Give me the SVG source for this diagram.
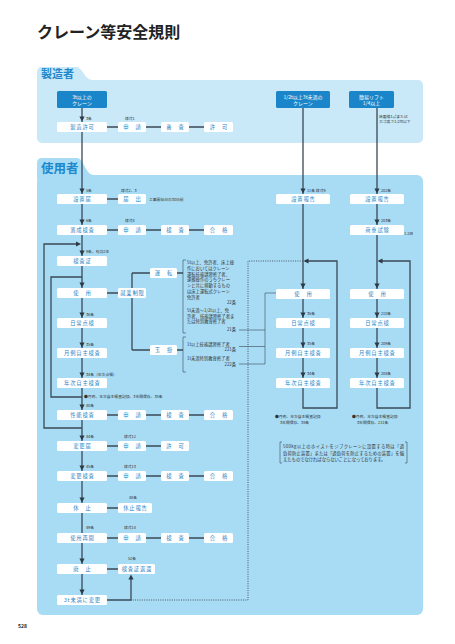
<svg xmlns="http://www.w3.org/2000/svg" width="455" height="644" viewBox="0 0 455 644">
<style>
text{font-family:"Noto Sans CJK JP","Noto Sans CJK SC",sans-serif}
.ttl{font-size:16px;font-weight:bold;fill:#222}
.tab{font-weight:bold;fill:#1e88cc}
.p1{fill:#c9e8f8}
.p2{fill:#a8dcf5}
.w{fill:#fff}
.d{fill:#1a86c9}
.t{font-size:5.3px;fill:#1f86c8;text-anchor:middle;letter-spacing:0.8px}
.tw{font-size:5px;fill:#fff;text-anchor:middle}
.s{font-size:3.8px;fill:#333}
.m{font-size:4.3px;fill:#333}
.r{text-anchor:end}
.ln{stroke:#3b4856;stroke-width:1.3;fill:none}
.lc{stroke:#3b4856;stroke-width:1.5;fill:none}
.thin{stroke:#3b4856;stroke-width:0.6;fill:none}
.dot{stroke:#3b4856;stroke-width:0.9;stroke-dasharray:1 1.3;fill:none}
.ah{fill:#2e3a46}
</style>
<defs>
<path id="ad" d="M-2.6,-5H2.6L0,0Z"/>
<path id="ar" d="M-5,-2.6V2.6L0,0Z"/>
<path id="al" d="M5,-2.6V2.6L0,0Z"/>
<path id="au" d="M-2.6,5H2.6L0,0Z"/>
</defs>
<rect width="455" height="644" fill="#fff"/>
<text class="ttl" x="37" y="38">クレーン等安全規則</text>

<g id="panel-maker">
<rect class="p1" x="37" y="80" width="386" height="63" rx="5"/>
<path class="p1" d="M37,84V72Q37,67 42,67H76C83,67 84,80 93,80V84Z"/>
<text class="tab" x="41" y="77.5" font-size="11">製造者</text>
</g>
<g id="panel-user">
<rect class="p2" x="37" y="175" width="386" height="440" rx="6"/>
<path class="p2" d="M37,179V163Q37,158 42,158H77C84,158 85,175 94,175V179Z"/>
<text class="tab" x="41" y="173" font-size="12.5">使用者</text>
</g>

<g id="connectors">
<path class="ln" d="M82,108V595"/>
<path class="ln" d="M303,108V408H337V261H305"/>
<path class="ln" d="M377,108V408H410V261H379"/>
<path class="ln" d="M82,428H44V244H77"/>
<path class="ln" d="M82,397H51V277H82"/>
<path class="lc" d="M107,127H118M146,127H161M189,127H204"/>
<path class="lc" d="M107,199H118"/>
<path class="lc" d="M107,230H118M146,230H161M189,230H204"/>
<path class="lc" d="M107,293H118"/>
<path class="ln" d="M132,273V350M132,273H150M132,350H150M177,273H183M177,350H183"/>
<path class="lc" d="M107,415H118M146,415H161M189,415H204"/>
<path class="lc" d="M107,446H118M146,446H161"/>
<path class="lc" d="M107,476H118M146,476H161M189,476H204"/>
<path class="lc" d="M107,508H118"/>
<path class="lc" d="M107,538H118M146,538H161M189,538H204"/>
<path class="lc" d="M107,569H118"/>
<path class="ln" d="M107,600H131V577"/>
<path class="thin" d="M186,260H183V333H186M186,337H183V372H186"/>
<path class="thin" d="M239,330H265M239,346.5H265M239,364H265M265,364V293H276"/>
<path class="dot" d="M303,261H248V600H131"/>
<g class="ah">
<use href="#ad" x="82" y="121.5"/><use href="#ad" x="82" y="193.5"/><use href="#ad" x="82" y="224.5"/><use href="#ad" x="82" y="255.5"/><use href="#ad" x="82" y="287.5"/><use href="#ad" x="82" y="317.5"/><use href="#ad" x="82" y="347.5"/><use href="#ad" x="82" y="377.5"/><use href="#ad" x="82" y="409.5"/><use href="#ad" x="82" y="440.5"/><use href="#ad" x="82" y="470.5"/><use href="#ad" x="82" y="502.5"/><use href="#ad" x="82" y="563.5"/><use href="#ad" x="82" y="594.5"/>
<use href="#ad" x="303" y="193.5"/><use href="#ad" x="303" y="288.5"/><use href="#ad" x="303" y="317.5"/><use href="#ad" x="303" y="347.5"/><use href="#ad" x="303" y="377.5"/>
<use href="#ad" x="377" y="193.5"/><use href="#ad" x="377" y="224.5"/><use href="#ad" x="377" y="288.5"/><use href="#ad" x="377" y="317.5"/><use href="#ad" x="377" y="347.5"/><use href="#ad" x="377" y="377.5"/>
<use href="#ar" x="81" y="244"/><use href="#al" x="303.5" y="261"/><use href="#al" x="377.5" y="261"/><use href="#au" x="131" y="574.5"/>
</g>
</g>

<g id="n-crane3t"><rect class="d" x="57" y="91" width="50" height="17" rx="1.5"/><text class="tw" x="82" y="98.5">3t以上の</text><text class="tw" x="82" y="105">クレーン</text></g>
<g id="n-crane-half"><rect class="d" x="276" y="91" width="54" height="17" rx="1.5"/><text class="tw" x="303" y="98.5">1/2t以上3t未満の</text><text class="tw" x="303" y="105">クレーン</text></g>
<g id="n-lift"><rect class="d" x="349" y="91" width="45" height="17" rx="1.5"/><text class="tw" x="371.5" y="98.5">簡易リフト</text><text class="tw" x="371.5" y="105">1/4以上</text></g>

<g id="n-seizokyoka"><rect class="w" x="57" y="122" width="50" height="10" rx="1.5"/><text class="t" x="82.4" y="129">製造許可</text></g>
<g id="n-shinsei1"><rect class="w" x="118" y="122" width="28" height="10" rx="1.5"/><text class="t" x="132.4" y="129">申　請</text></g>
<g id="n-shinsa1"><rect class="w" x="161" y="122" width="28" height="10" rx="1.5"/><text class="t" x="175.4" y="129">審　査</text></g>
<g id="n-kyoka1"><rect class="w" x="204" y="122" width="29" height="10" rx="1.5"/><text class="t" x="218.9" y="129">許　可</text></g>

<g id="n-secchitodoke"><rect class="w" x="57" y="194" width="50" height="10" rx="1.5"/><text class="t" x="82.4" y="201">設置届</text></g>
<g id="n-todokede"><rect class="w" x="118" y="194" width="28" height="10" rx="1.5"/><text class="t" x="132.4" y="201">届　出</text></g>
<g id="n-rakusei"><rect class="w" x="57" y="225" width="50" height="10" rx="1.5"/><text class="t" x="82.4" y="232">落成検査</text></g>
<g id="n-shinsei2"><rect class="w" x="118" y="225" width="28" height="10" rx="1.5"/><text class="t" x="132.4" y="232">申　請</text></g>
<g id="n-kensa2"><rect class="w" x="161" y="225" width="28" height="10" rx="1.5"/><text class="t" x="175.4" y="232">検　査</text></g>
<g id="n-gokaku2"><rect class="w" x="204" y="225" width="29" height="10" rx="1.5"/><text class="t" x="218.9" y="232">合　格</text></g>
<g id="n-kensasho"><rect class="w" x="57" y="256" width="50" height="10" rx="1.5"/><text class="t" x="82.4" y="263">検査証</text></g>
<g id="n-shiyo"><rect class="w" x="57" y="288" width="50" height="10" rx="1.5"/><text class="t" x="82.4" y="295">使　用</text></g>
<g id="n-shugyo"><rect class="w" x="118" y="288" width="28" height="10" rx="1.5"/><text class="t" x="132.4" y="295">就業制限</text></g>
<g id="n-unten"><rect class="w" x="150" y="268" width="27" height="10" rx="1.5"/><text class="t" x="163.9" y="275">運　転</text></g>
<g id="n-tamakake"><rect class="w" x="150" y="345" width="27" height="10" rx="1.5"/><text class="t" x="163.9" y="352">玉　掛</text></g>
<g id="n-nichijo"><rect class="w" x="57" y="318" width="50" height="10" rx="1.5"/><text class="t" x="82.4" y="325">日常点検</text></g>
<g id="n-getsurei"><rect class="w" x="57" y="348" width="50" height="10" rx="1.5"/><text class="t" x="82.4" y="355">月例自主検査</text></g>
<g id="n-nenji"><rect class="w" x="57" y="378" width="50" height="10" rx="1.5"/><text class="t" x="82.4" y="385">年次自主検査</text></g>
<g id="n-seino"><rect class="w" x="57" y="410" width="50" height="10" rx="1.5"/><text class="t" x="82.4" y="417">性能検査</text></g>
<g id="n-shinsei3"><rect class="w" x="118" y="410" width="28" height="10" rx="1.5"/><text class="t" x="132.4" y="417">申　請</text></g>
<g id="n-kensa3"><rect class="w" x="161" y="410" width="28" height="10" rx="1.5"/><text class="t" x="175.4" y="417">検　査</text></g>
<g id="n-gokaku3"><rect class="w" x="204" y="410" width="29" height="10" rx="1.5"/><text class="t" x="218.9" y="417">合　格</text></g>
<g id="n-henkotodoke"><rect class="w" x="57" y="441" width="50" height="10" rx="1.5"/><text class="t" x="82.4" y="448">変更届</text></g>
<g id="n-shinsei4"><rect class="w" x="118" y="441" width="28" height="10" rx="1.5"/><text class="t" x="132.4" y="448">申　請</text></g>
<g id="n-kyoka4"><rect class="w" x="161" y="441" width="28" height="10" rx="1.5"/><text class="t" x="175.4" y="448">許　可</text></g>
<g id="n-henkokensa"><rect class="w" x="57" y="471" width="50" height="10" rx="1.5"/><text class="t" x="82.4" y="478">変更検査</text></g>
<g id="n-shinsei5"><rect class="w" x="118" y="471" width="28" height="10" rx="1.5"/><text class="t" x="132.4" y="478">申　請</text></g>
<g id="n-kensa5"><rect class="w" x="161" y="471" width="28" height="10" rx="1.5"/><text class="t" x="175.4" y="478">検　査</text></g>
<g id="n-gokaku5"><rect class="w" x="204" y="471" width="29" height="10" rx="1.5"/><text class="t" x="218.9" y="478">合　格</text></g>
<g id="n-kyushi"><rect class="w" x="57" y="503" width="50" height="10" rx="1.5"/><text class="t" x="82.4" y="510">休　止</text></g>
<g id="n-kyushihokoku"><rect class="w" x="118" y="503" width="34" height="10" rx="1.5"/><text class="t" x="135.4" y="510">休止報告</text></g>
<g id="n-saikai"><rect class="w" x="57" y="533" width="50" height="10" rx="1.5"/><text class="t" x="82.4" y="540">使用再開</text></g>
<g id="n-shinsei6"><rect class="w" x="118" y="533" width="28" height="10" rx="1.5"/><text class="t" x="132.4" y="540">申　請</text></g>
<g id="n-kensa6"><rect class="w" x="161" y="533" width="28" height="10" rx="1.5"/><text class="t" x="175.4" y="540">検　査</text></g>
<g id="n-gokaku6"><rect class="w" x="204" y="533" width="29" height="10" rx="1.5"/><text class="t" x="218.9" y="540">合　格</text></g>
<g id="n-haishi"><rect class="w" x="57" y="564" width="50" height="10" rx="1.5"/><text class="t" x="82.4" y="571">廃　止</text></g>
<g id="n-henkan"><rect class="w" x="118" y="564" width="37" height="10" rx="1.5"/><text class="t" x="136.9" y="571">検査証返還</text></g>
<g id="n-3tmiman"><rect class="w" x="57" y="595" width="50" height="10" rx="1.5"/><text class="t" x="82.4" y="602">3t未満に変更</text></g>

<g id="n-a-secchi"><rect class="w" x="276" y="194" width="54" height="10" rx="1.5"/><text class="t" x="303.4" y="201">設置報告</text></g>
<g id="n-a-shiyo"><rect class="w" x="276" y="289" width="54" height="10" rx="1.5"/><text class="t" x="303.4" y="296">使　用</text></g>
<g id="n-a-nichijo"><rect class="w" x="276" y="318" width="54" height="10" rx="1.5"/><text class="t" x="303.4" y="325">日常点検</text></g>
<g id="n-a-getsurei"><rect class="w" x="276" y="348" width="54" height="10" rx="1.5"/><text class="t" x="303.4" y="355">月例自主検査</text></g>
<g id="n-a-nenji"><rect class="w" x="276" y="378" width="54" height="10" rx="1.5"/><text class="t" x="303.4" y="385">年次自主検査</text></g>
<g id="n-b-secchi"><rect class="w" x="350" y="194" width="54" height="10" rx="1.5"/><text class="t" x="377.4" y="201">設置報告</text></g>
<g id="n-b-kaju"><rect class="w" x="350" y="225" width="54" height="10" rx="1.5"/><text class="t" x="377.4" y="232">荷重試験</text></g>
<g id="n-b-shiyo"><rect class="w" x="350" y="289" width="54" height="10" rx="1.5"/><text class="t" x="377.4" y="296">使　用</text></g>
<g id="n-b-nichijo"><rect class="w" x="350" y="318" width="54" height="10" rx="1.5"/><text class="t" x="377.4" y="325">日常点検</text></g>
<g id="n-b-getsurei"><rect class="w" x="350" y="348" width="54" height="10" rx="1.5"/><text class="t" x="377.4" y="355">月例自主検査</text></g>
<g id="n-b-nenji"><rect class="w" x="350" y="378" width="54" height="10" rx="1.5"/><text class="t" x="377.4" y="385">年次自主検査</text></g>

<g id="notes">
<text class="s" x="86" y="120">3条</text><text class="s" x="125" y="120">様式1</text>
<text class="s" x="379" y="118">床面積1㎡または</text><text class="s" x="379" y="123">カゴ高さ1.2m以下</text>
<text class="s" x="86" y="192">5条</text><text class="s" x="121" y="192">様式2、3</text>
<text class="s" x="149" y="201">工事開始日の30日前</text>
<text class="s" x="86" y="222">6条</text><text class="s" x="125" y="222">様式4</text>
<text class="s" x="86" y="253">9条、有効2年</text>
<text class="s" x="86" y="316">36条</text><text class="s" x="86" y="346">35条</text><text class="s" x="86" y="376">34条（年次点検）</text>
<text class="s" x="84" y="398">●月例、年次自主検査記録、3年間保存、38条</text>
<text class="s" x="86" y="407">40条</text>
<text class="s" x="86" y="438">44条</text><text class="s" x="124" y="438">様式12</text>
<text class="s" x="86" y="468">45条</text><text class="s" x="124" y="468">様式13</text>
<text class="s" x="129" y="499">48条</text>
<text class="s" x="86" y="529">49条</text><text class="s" x="124" y="529">様式14</text>
<text class="s" x="128" y="560">52条</text>
<text class="s" x="307" y="192">11条 様式9</text>
<text class="s" x="381" y="192">202条</text><text class="s" x="381" y="222">203条</text><text class="s" x="404" y="235">1.2倍</text>
<text class="s" x="307" y="315">36条</text><text class="s" x="307" y="345">35条</text><text class="s" x="307" y="375">34条</text>
<text class="s" x="381" y="315">210条</text><text class="s" x="381" y="345">209条</text><text class="s" x="381" y="375">208条</text>
<text class="s" x="275" y="417.5">●月例、年次自主検査記録</text><text class="s" x="280" y="423.5">3年間保存、38条</text>
<text class="s" x="352" y="417.5">●月例、年次自主検査記録</text><text class="s" x="357" y="423.5">3年間保存、211条</text>
<text class="m" x="187" y="264.2">5t以上、免許者、床上操</text>
<text class="m" x="187" y="270">作においてはクレーン</text>
<text class="m" x="187" y="275.7">運転技能講習修了者、</text>
<text class="m" x="187" y="281.4">運搬操作のうちクレー</text>
<text class="m" x="187" y="287.1">ンと共に移動するもの</text>
<text class="m" x="187" y="292.8">は床上運転式クレーン</text>
<text class="m" x="187" y="298.5">免許者</text>
<text class="m r" x="236" y="304">22条</text>
<text class="m" x="187" y="312">5t未満～1/2t以上、免</text>
<text class="m" x="187" y="317.6">許者、技能講習修了者ま</text>
<text class="m" x="187" y="323.2">たは特別教育修了者</text>
<text class="m r" x="236" y="331">21条</text>
<text class="m" x="187" y="345.8">1t以上技能講習修了者</text>
<text class="m r" x="236" y="351">221条</text>
<text class="m" x="187" y="360">1t未満特別教育修了者</text>
<text class="m r" x="236" y="365.5">222条</text>
</g>
<g id="note-box">
<path class="thin" d="M282,442H280V463H282M405,442H407V463H405"/>
<text class="m" x="283" y="448" textLength="121">500kg以上のホイストをジブクレーンに設置する時は「過</text>
<text class="m" x="283" y="454.5" textLength="121">負荷防止装置」または「過負荷を防止するための装置」を備</text>
<text class="m" x="283" y="461">えたものでなければならないことになっております。</text>
</g>
<text x="18" y="628" font-size="5" font-weight="bold" fill="#222">528</text>
</svg>
